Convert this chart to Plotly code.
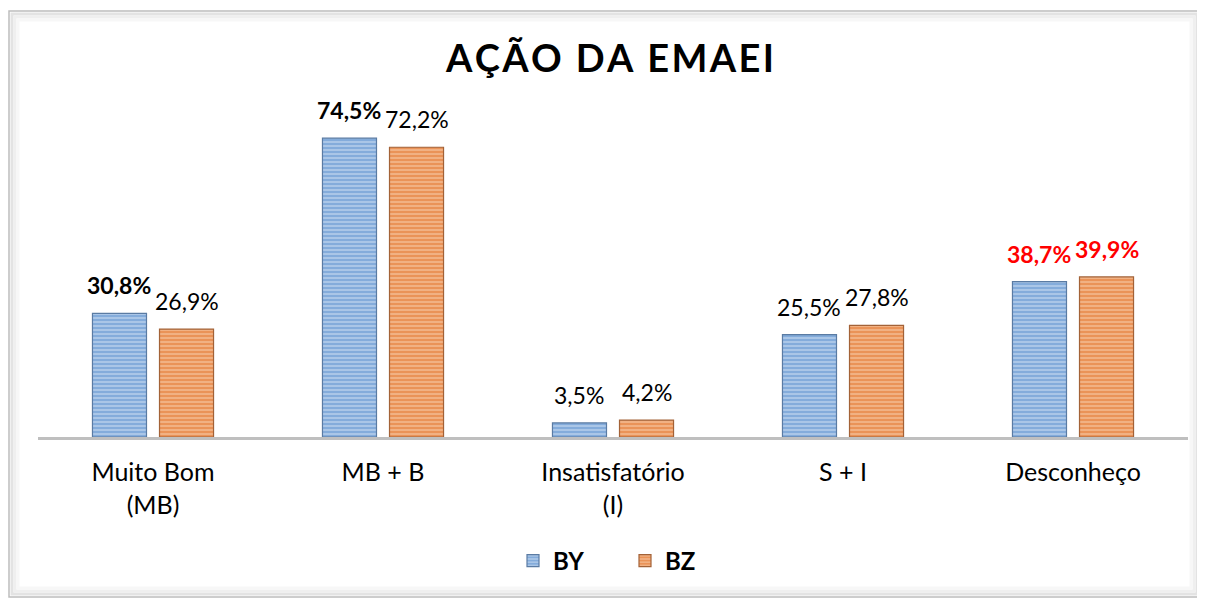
import plotly.graph_objects as go

categories = ["Muito Bom<br>(MB)", "MB + B", "Insatisfatório<br>(I)", "S + I", "Desconheço"]
by_values = [30.8, 74.5, 3.5, 25.5, 38.7]
bz_values = [26.9, 72.2, 4.2, 27.8, 39.9]
by_labels = ["<b>30,8%</b>", "<b>74,5%</b>", "3,5%", "25,5%", "<b>38,7%</b>"]
bz_labels = ["26,9%", "72,2%", "4,2%", "27,8%", "<b>39,9%</b>"]
by_label_colors = ["#000000", "#000000", "#000000", "#000000", "#FF0000"]
bz_label_colors = ["#000000", "#000000", "#000000", "#000000", "#FF0000"]

# page has an 8px body margin: figure pixel = page pixel - 8
OFF = 8
W, H = 1205 - OFF, 600 - OFF
L, R = 38 - OFF, 1205 - 1188
T = 100 - OFF
B = H - (437 - OFF)
pw, ph = W - L - R, H - T - B
BARGAP = 0.417
cat_w = pw / len(categories)
slot = (1 - BARGAP) * cat_w / 2

def px(x):
    return (x - OFF - L) / pw

def py(y):
    return (H - B - (y - OFF)) / ph

font_family = "Lato, 'Open Sans', sans-serif"

fig = go.Figure()
fig.add_trace(go.Bar(
    name="<b>BY</b>", x=categories, y=by_values,
    marker=dict(color="#8DB4E2",
                line=dict(color="#5A7BA3", width=1.2),
                pattern=dict(shape="-", fgcolor="#D9E7F8", bgcolor="#84ACDB", size=4, solidity=0.45)),
))
fig.add_trace(go.Bar(
    name="<b>BZ</b>", x=categories, y=bz_values,
    marker=dict(color="#EE9B62",
                line=dict(color="#A36237", width=1.2),
                pattern=dict(shape="-", fgcolor="#FCD6B8", bgcolor="#EA9358", size=4, solidity=0.45)),
))

annotations = []
for vals, labs, cols, sh in [(by_values, by_labels, by_label_colors, -slot / 2),
                             (bz_values, bz_labels, bz_label_colors, slot / 2)]:
    for c, v, t, col in zip(categories, vals, labs, cols):
        annotations.append(dict(x=c, y=v, xref="x", yref="y", text=t, showarrow=False,
                                xanchor="center", yanchor="bottom", xshift=sh, yshift=12,
                                font=dict(size=23, color=col, family=font_family)))

title_text = "\u200a".join("AÇÃO DA EMAEI")

shapes = []
# outer frame with soft inner shadow
for off, c, w in [(0, "#BDBDBD", 1.5), (3, "#E3E3E3", 3), (6, "#EFEFEF", 3), (9, "#F7F7F7", 3)]:
    shapes.append(dict(type="rect", xref="paper", yref="paper",
                       x0=px(9 + off), x1=px(1200 - off), y0=py(597 - off), y1=py(11 + off),
                       line=dict(color=c, width=w), fillcolor="rgba(0,0,0,0)", layer="below"))

fig.update_layout(
    width=W, height=H,
    margin=dict(l=L, r=R, t=T, b=B),
    paper_bgcolor="white", plot_bgcolor="white",
    barmode="group", bargap=BARGAP, bargroupgap=0.194,
    title=dict(text="<b>" + title_text + "</b>", x=(610 - OFF) / W, xanchor="center",
               y=1 - (59 - OFF) / H, yanchor="middle", yref="container",
               font=dict(size=38, color="#000000", family=font_family)),
    font=dict(family=font_family, color="#000000"),
    xaxis=dict(showline=True, linecolor="#BFBFBF", linewidth=3, ticks="",
               tickfont=dict(size=25, color="#000000"), ticklabelstandoff=11,
               showgrid=False, zeroline=False),
    yaxis=dict(range=[0, ph / 4.013], visible=False, showgrid=False, zeroline=False),
    showlegend=True,
    legend=dict(orientation="h", x=px(625), xanchor="center", y=py(561), yanchor="middle",
                font=dict(size=24, color="#000000"), itemwidth=30, tracegroupgap=0,
                entrywidth=67, entrywidthmode="pixels",
                bgcolor="rgba(0,0,0,0)"),
    annotations=annotations,
    shapes=shapes,
)

fig.write_html("out.html")
